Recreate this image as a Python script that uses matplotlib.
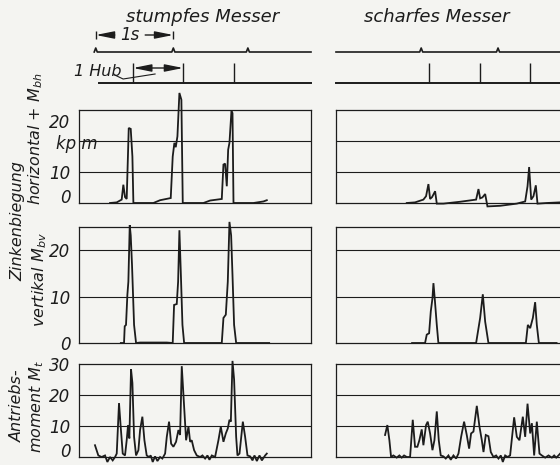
import matplotlib.pyplot as plt

# time axis in s (1 s = 76 px in the scan), moments in kp m
t_end = 3.05

sec_marks_dull = [0.22, 1.24, 2.22]
hub_marks_dull = [0.71, 1.37, 2.04]
sec_marks_sharp = [1.12, 2.13]
hub_marks_sharp = [1.22, 1.89, 2.55]

# Zinkenbiegung horizontal + M_bh
t_h_dull = [0.408, 0.496, 0.561, 0.583, 0.605, 0.627, 0.654, 0.68, 0.702, 0.715,
            0.978, 1.066, 1.206, 1.232, 1.254, 1.272, 1.294, 1.32, 1.346, 1.364,
            1.636, 1.724, 1.877, 1.899, 1.921, 1.943, 1.961, 1.978, 2.004, 2.018,
            2.031, 2.294, 2.425, 2.469]
mh_dull = [0, 0.2, 1.1, 5.9, 1.9, 1.3, 24.2, 23.9, 15, 0,
           0, 0.9, 1.6, 15, 19.4, 18, 21.5, 35.5, 33.3, 0,
           0, 0.8, 1.3, 12.4, 12.7, 5.4, 17.2, 19.4, 29.6, 29,
           0, 0, 0.5, 0.9]
t_h_sharp = [0.93, 1.039, 1.149, 1.184, 1.215, 1.237, 1.263, 1.303, 1.325, 1.412,
             1.632, 1.842, 1.873, 1.895, 1.925, 1.961, 1.991, 2.158, 2.377, 2.487,
             2.518, 2.539, 2.566, 2.596, 2.627, 2.649, 2.772, 2.947]
mh_sharp = [0, 0.2, 1.1, 2.2, 6.1, 1.3, 1.9, 3.8, -0.2, -0.2,
            0.4, 1.1, 4.5, 1.5, 1.8, 2.9, -1.1, -0.9, -0.2, 0.5,
            5.4, 11.6, 1.1, 2.2, 5.7, -0.2, 0, 0.2]

# vertikal M_bv
t_v_dull = [0.55, 0.592, 0.601, 0.618, 0.636, 0.649, 0.667, 0.68, 0.697, 0.724,
            0.75, 0.803, 1.154, 1.232, 1.25, 1.285, 1.303, 1.32, 1.338, 1.36,
            1.382, 1.877, 1.899, 1.93, 1.956, 1.978, 2.0, 2.018, 2.039, 2.066,
            2.5]
mv_dull = [0, 0, 3.6, 3.9, 10.4, 13.2, 25.4, 23.2, 16.8, 3.9,
           0, 0.1, 0.1, 0, 8.2, 8.4, 13.2, 24.3, 15.4, 3.9,
           0, 0, 5.4, 6.1, 13.2, 26.1, 23.2, 14.6, 3.9, 0,
           0]
t_v_sharp = [1.0, 1.171, 1.193, 1.224, 1.246, 1.268, 1.281, 1.298, 1.325, 1.346,
             1.842, 1.895, 1.93, 1.961, 2.004, 2.496, 2.522, 2.553, 2.588, 2.618,
             2.64, 2.667, 2.9]
mv_sharp = [0, 0, 1.8, 2.1, 6.8, 9.6, 12.9, 9.6, 3.9, 0,
            0, 5.4, 10.5, 4.6, 0, 0, 3.9, 3.2, 5.4, 8.8,
            3.9, 0, 0]

# Antriebsmoment M_t
t_a_dull = [0.21, 0.254, 0.298, 0.342, 0.373, 0.408, 0.443, 0.474, 0.496, 0.526,
            0.548, 0.575, 0.605, 0.627, 0.645, 0.662, 0.684, 0.702, 0.724, 0.75,
            0.781, 0.803, 0.833, 0.86, 0.89, 0.921, 0.943, 0.969, 1.0, 1.031,
            1.066, 1.096, 1.132, 1.154, 1.184, 1.211, 1.241, 1.276, 1.307, 1.329,
            1.351, 1.382, 1.408, 1.439, 1.461, 1.482, 1.513, 1.548, 1.592, 1.623,
            1.658, 1.689, 1.715, 1.746, 1.789, 1.833, 1.864, 1.899, 1.93, 1.956,
            1.978, 1.996, 2.018, 2.039, 2.066, 2.083, 2.11, 2.154, 2.184, 2.215,
            2.25, 2.281, 2.307, 2.338, 2.373, 2.404, 2.447, 2.469]
mt_dull = [3.8, 0.5, 0, 0.5, -1.6, 0, -1.1, 0, 1.1, 17.4,
           9.8, 1.1, 0.5, 5.4, 10.3, 6, 28.3, 23.9, 6.5, 0.5,
           2.2, 8.7, 13, 5.4, 0.5, 0, 0.5, -1.6, 0.2, -1.3,
           0, -0.5, 1.1, 6.5, 11.4, 4.3, 3.3, 4.9, 8.7, 7.1,
           29.3, 16.3, 5.4, 9.8, 4.9, 5.4, 2.2, 0.5, 0, 0.5,
           -0.5, 0.5, -0.9, 0.5, 0, 5.4, 9.8, 4.9, 7.6, 9.2,
           12, 11.4, 31, 25, 6.5, 0.5, 1.1, 11.4, 6.5, 0.5,
           0.2, -1.1, 0.5, -1.3, 0.5, -1.1, 0.5, 1.1]
t_a_sharp = [0.645, 0.675, 0.702, 0.724, 0.754, 0.798, 0.833, 0.864, 0.895, 0.93,
             0.974, 1.009, 1.039, 1.07, 1.096, 1.127, 1.149, 1.184, 1.206, 1.237,
             1.268, 1.294, 1.325, 1.351, 1.377, 1.412, 1.443, 1.478, 1.509, 1.544,
             1.579, 1.61, 1.645, 1.684, 1.719, 1.75, 1.776, 1.807, 1.851, 1.886,
             1.917, 1.939, 1.969, 2.004, 2.035, 2.07, 2.105, 2.136, 2.167, 2.193,
             2.224, 2.254, 2.289, 2.342, 2.377, 2.412, 2.456, 2.487, 2.518, 2.553,
             2.575, 2.605, 2.64, 2.675, 2.706, 2.75, 2.794, 2.838, 2.868, 2.895,
             2.925, 2.947]
mt_sharp = [7.1, 10.3, 5.4, 0, 0.5, -0.2, 0.5, -0.2, 0.5, 0,
            0, 12, 3.3, 3.3, 5.4, 8.9, 3.8, 10.3, 11.4, 7.6,
            2.2, 5.4, 14.7, 5.4, 0.5, 0.2, -0.5, 0.5, -0.9, 0.5,
            -0.5, 1.1, 6.5, 11.4, 7.1, 2.7, 7.6, 8.2, 16.5, 9.8,
            5.4, 1.6, 7.1, 6.7, 1.6, 0, 0.5, -0.5, 0.5, -1.6,
            0.5, 0, 0.5, 12.8, 6.5, 5.4, 13, 6.5, 17.2, 7.6,
            10.9, 0.5, 11.4, 1.1, 0.5, -0.2, 0.5, -0.2, 0.5, -0.2,
            0.5, 1.1]

BG = '#f4f4f1'
INK = '#1c1c1c'
plt.rcParams['font.family'] = ['DejaVu Sans']
plt.rcParams['font.style'] = 'italic'
plt.rcParams['mathtext.fontset'] = 'dejavusans'

W, H = 560, 465
fig = plt.figure(figsize=(W / 100, H / 100), dpi=100, facecolor=BG)


def px_axes(x0, top, w, h):
    return fig.add_axes([x0 / W, 1 - (top + h) / H, w / W, h / H])


def panel(x0, top, h, ymax, t, m, ticks=None, labels=None, lift_zero=False):
    ax = px_axes(x0, top, 232, h)
    ax.set_facecolor('none')
    ax.set_xlim(0, t_end)
    ax.set_ylim(0, ymax)
    for g in (10, 20):
        ax.axhline(g, color=INK, lw=0.8)
    ax.plot(t, m, color=INK, lw=1.3, clip_on=False, solid_joinstyle='miter')
    for s in ax.spines.values():
        s.set_color(INK)
        s.set_linewidth(0.9)
    ax.set_xticks([])
    if ticks is None:
        ax.set_yticks([])
    else:
        ax.set_yticks(ticks)
        ax.set_yticklabels(labels, fontsize=12, style='italic', color=INK)
        ax.tick_params(axis='y', length=0, pad=6)
        if lift_zero:
            ax.get_yticklabels()[0].set_verticalalignment('baseline')
    return ax


def timing(x0, sec_marks, hub_marks, sec_start, hub_start):
    ax = px_axes(x0, 20, 232, 70)
    ax.set_xlim(0, t_end)
    ax.set_ylim(0, 70)
    ax.axis('off')
    xs, ys = [sec_start], [38]
    for m in sec_marks:
        xs += [m - 0.02, m, m + 0.02]
        ys += [38, 42, 38]
    xs.append(t_end)
    ys.append(38)
    ax.plot(xs, ys, color=INK, lw=1.2, clip_on=False)
    ax.plot([hub_start, t_end], [7, 7], color=INK, lw=1.4, clip_on=False)
    ax.vlines(hub_marks, 7, 27, color=INK, lw=1.0)
    return ax


# top row
axl = timing(79, sec_marks_dull, hub_marks_dull, 0.2, 0.26)
axr = timing(336, sec_marks_sharp, hub_marks_sharp, 0.0, 0.0)

arrow = dict(arrowstyle='-|>,head_length=1.1,head_width=0.22', color=INK,
             lw=1.0, shrinkA=0, shrinkB=0, mutation_scale=10)
axl.vlines([sec_marks_dull[0], sec_marks_dull[1]], 51, 59, color=INK, lw=1.0)
axl.annotate('', xy=(sec_marks_dull[0], 55), xytext=(0.47, 55), arrowprops=arrow)
axl.annotate('', xy=(sec_marks_dull[1], 55), xytext=(0.87, 55), arrowprops=arrow)
axl.text(0.67, 55, '1s', ha='center', va='center', fontsize=12, color=INK)
darrow = dict(arrow, arrowstyle='<|-|>,head_length=1.1,head_width=0.22')
axl.annotate('', xy=(hub_marks_dull[0], 22), xytext=(hub_marks_dull[1], 22),
             arrowprops=darrow)
axl.text(-0.06, 19, '1 Hub', ha='left', va='center', fontsize=11.5, color=INK)
axl.plot([0.47, 0.58, 1.0], [15, 11, 16], color=INK, lw=0.8, clip_on=False)

fig.text(203 / W, 1 - 17 / H, 'stumpfes Messer', ha='center', va='center',
         fontsize=13, color=INK)
fig.text(437 / W, 1 - 17 / H, 'scharfes Messer', ha='center', va='center',
         fontsize=13, color=INK)

# Zinkenbiegung horizontal
p = panel(79, 110, 93, 30, t_h_dull, mh_dull, [0, 10, 26.5], ['0', '10', '20'],
          lift_zero=True)
p.text(-0.3, 19, 'kp m', ha='left', va='center', fontsize=12, color=INK)
panel(336, 110, 93, 30, t_h_sharp, mh_sharp)

# vertikal
panel(79, 227, 116, 25, t_v_dull, mv_dull, [0, 10, 20], ['0', '10', '20'])
panel(336, 227, 116, 25, t_v_sharp, mv_sharp)

# Antriebsmoment
panel(79, 364, 93, 30, t_a_dull, mt_dull, [0, 10, 20, 30],
      ['0', '10', '20', '30'], lift_zero=True)
panel(336, 364, 93, 30, t_a_sharp, mt_sharp)

# axis titles
lab = dict(rotation=90, ha='center', va='center', fontsize=11.5, color=INK)
fig.text(18 / W, 1 - 221 / H, 'Zinkenbiegung', **lab)
fig.text(36 / W, 1 - 139 / H, r'horizontal + $M_{bh}$', **lab)
fig.text(40 / W, 1 - 280 / H, r'vertikal $M_{bv}$', **lab)
fig.text(17 / W, 1 - 406 / H, 'Antriebs-', **lab)
fig.text(37 / W, 1 - 407 / H, r'moment $M_t$', **lab)

fig.savefig('out.png', dpi=100, facecolor=BG)
